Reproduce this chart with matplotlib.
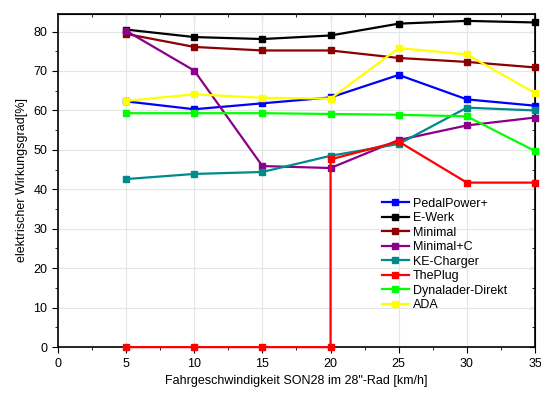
import numpy as np
import matplotlib
matplotlib.use("Agg")
import matplotlib.pyplot as plt
from matplotlib.ticker import MultipleLocator

plt.rcParams['font.family'] = ['Liberation Sans', 'DejaVu Sans']

speeds = [5, 10, 15, 20, 25, 30, 35]
pedalpower = [62.3, 60.3, 61.8, 63.3, 69.0, 62.8, 61.2]
ewerk = [80.5, 78.6, 78.1, 79.0, 82.0, 82.7, 82.3]
minimal = [79.4, 76.1, 75.2, 75.2, 73.3, 72.3, 70.9]
minimal_c = [80.2, 70.1, 45.9, 45.4, 52.5, 56.2, 58.2]
ke_charger = [42.6, 43.9, 44.4, 48.5, 51.5, 60.7, 60.0]
# ThePlug jumps at 20 km/h, so 20 appears twice
theplug_x = [5, 10, 15, 20, 20, 25, 30, 35]
theplug = [0, 0, 0, 0, 47.6, 52.1, 41.7, 41.7]
dynalader = [59.3, 59.3, 59.3, 59.1, 58.9, 58.5, 49.7]
ada = [62.4, 64.1, 63.2, 63.0, 75.8, 74.2, 64.4]

series = [
    ("PedalPower+", speeds, pedalpower, "#0000ff"),
    ("E-Werk", speeds, ewerk, "#000000"),
    ("Minimal", speeds, minimal, "#8b0000"),
    ("Minimal+C", speeds, minimal_c, "#8b008b"),
    ("KE-Charger", speeds, ke_charger, "#008b8b"),
    ("ThePlug", theplug_x, theplug, "#ff0000"),
    ("Dynalader-Direkt", speeds, dynalader, "#00ff00"),
    ("ADA", speeds, ada, "#ffff00"),
]

fig = plt.figure(figsize=(5.41, 3.94), dpi=100)
ax = fig.add_axes([0.107, 0.119, 0.882, 0.846])

for name, xs, ys, col in series:
    ax.plot(xs, ys, color=col, lw=1.6, marker='s', markersize=4.5, label=name,
            clip_on=False, zorder=3)

ax.set_xlim(0, 35)
ax.set_ylim(0, 84.5)
ax.xaxis.set_major_locator(MultipleLocator(5))
ax.xaxis.set_minor_locator(MultipleLocator(2.5))
ax.yaxis.set_major_locator(MultipleLocator(10))
ax.yaxis.set_minor_locator(MultipleLocator(5))
ax.grid(True, which='major', color='#e6e6e6', lw=0.8)
ax.set_axisbelow(True)

ax.tick_params(which='both', direction='out', labelsize=9, top=False, right=False)
ax.tick_params(which='major', length=4)
ax.tick_params(which='minor', length=2.5)
# mirrored inward ticks on top and right
ax2 = ax.secondary_xaxis('top')
ax2.xaxis.set_major_locator(MultipleLocator(5))
ax2.xaxis.set_minor_locator(MultipleLocator(2.5))
ax2.tick_params(which='both', direction='in', labeltop=False)
ax2.tick_params(which='major', length=4)
ax2.tick_params(which='minor', length=2.5)
ax3 = ax.secondary_yaxis('right')
ax3.yaxis.set_major_locator(MultipleLocator(10))
ax3.yaxis.set_minor_locator(MultipleLocator(5))
ax3.tick_params(which='both', direction='in', labelright=False)
ax3.tick_params(which='major', length=4)
ax3.tick_params(which='minor', length=2.5)

for sp in ax.spines.values():
    sp.set_linewidth(1.2)

ax.set_xlabel('Fahrgeschwindigkeit SON28 im 28"-Rad [km/h]', fontsize=9)
ax.set_ylabel('elektrischer Wirkungsgrad[%]', fontsize=9)

ax.legend(loc='upper left', bbox_to_anchor=(0.66, 0.475), frameon=False,
          fontsize=9, labelspacing=0.2, handlelength=2.2, handletextpad=0.3,
          borderpad=0.2)

fig.savefig("out.png", dpi=100)
